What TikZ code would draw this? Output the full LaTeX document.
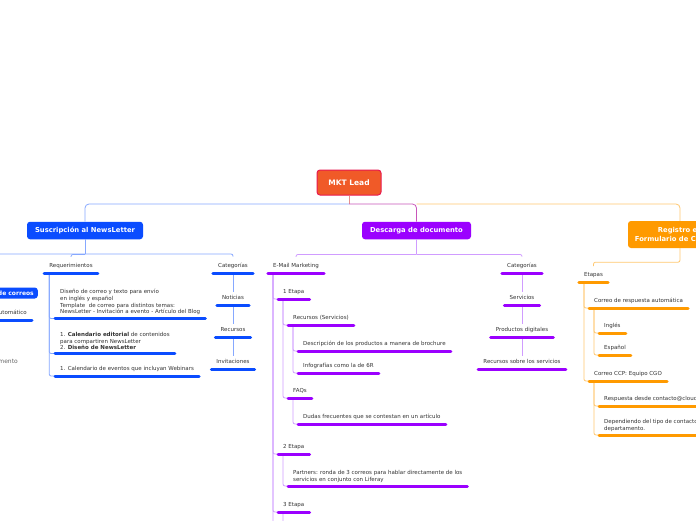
\documentclass[tikz,border=0pt]{standalone}
\usepackage{fontspec}
\setmainfont{DejaVu Sans}
\usepackage{tikz}
\usetikzlibrary{calc}
\definecolor{txt}{HTML}{333333}
\definecolor{note}{HTML}{666666}
\definecolor{rootfill}{HTML}{F05A28}
\definecolor{rootedge}{HTML}{E8194F}
\definecolor{mblue}{HTML}{0A4CFF}
\definecolor{lblue}{HTML}{86A8FF}
\definecolor{mpurple}{HTML}{9B00FF}
\definecolor{lpurple}{HTML}{D09CFF}
\definecolor{morange}{HTML}{FF9A00}
\definecolor{lorange}{HTML}{FFC870}
\definecolor{salmon}{HTML}{E6908C}
\newcommand\fsmall{\fontsize{5.5}{6.6}\selectfont}
\newcommand\fmain{\fontsize{6.8}{8.8}\selectfont\bfseries}
\newcommand\froot{\fontsize{7.5}{9}\selectfont\bfseries}
\tikzset{
  rootbox/.style={draw=rootedge, fill=rootfill, line width=1pt, rounded corners=3pt,
    text=white, font=\froot, minimum width=64pt, minimum height=25pt},
  mainbox/.style={rounded corners=3pt, text=white, font=\fmain, align=center, inner sep=0pt},
  topic/.style={font=\fsmall, text=txt, inner xsep=5pt, inner ysep=3.5pt, text depth=1.5pt},
  mtopic/.style={font=\fsmall, text=txt, inner xsep=5pt, inner ysep=3.5pt, align=left},
  ublue/.style={draw=mblue, line width=3pt, line cap=round},
  upurple/.style={draw=mpurple, line width=3pt, line cap=round},
  uorange/.style={draw=morange, line width=3pt, line cap=round},
  cblue/.style={draw=lblue, line width=0.8pt, rounded corners=2pt},
  cpurple/.style={draw=lpurple, line width=0.8pt, rounded corners=2pt},
  corange/.style={draw=lorange, line width=0.8pt, rounded corners=2pt},
}

\begin{document}
\begin{tikzpicture}[x=1pt,y=-1pt]
  \useasboundingbox[fill=white] (0,0) rectangle (696,520);
  % main topics
  \node[rootbox] (root) at (349,182.5) {MKT Lead};
  \node[mainbox, fill=mblue, minimum width=116pt, minimum height=17.5pt] (sus) at (85,230.5) {Suscripción al NewsLetter};
  \node[mainbox, fill=mblue, font=\fontsize{6}{7}\selectfont\bfseries, minimum height=11pt, inner xsep=4pt, anchor=east] (envio) at (38,293) {Envío de correos};
  \node[mainbox, fill=mpurple, minimum width=109pt, minimum height=17.5pt] (desc) at (416.5,230.5) {Descarga de documento};
  \node[mainbox, fill=morange, minimum width=104pt, minimum height=27pt] (reg) at (680,234.5) {Registro en\\Formulario de Contacto};
  \node[topic, anchor=south east] (auto) at (32,320) {Correo automático};
  \node[font=\fontsize{6}{7}\selectfont, text=note, anchor=east, inner sep=0pt] (docu) at (18,361) {Documento};

  % suscripcion
  \node[topic, anchor=south] (req) at (71,273) {Requerimientos};
  \node[mtopic, anchor=south west] (rq1) at (55,318.5) {Diseño de correo y texto para envío\\en inglés y español\\Template\ \ de correo para distintos temas:\\NewsLetter - Invitación a evento - Artículo del Blog};
  \node[mtopic, anchor=south west] (rq2) at (55,353.5) {1. \textbf{Calendario editorial} de contenidos\\para compartiren NewsLetter\\2. \textbf{Diseño de NewsLetter}};
  \node[topic, anchor=south west] (rq3) at (55,376) {1. Calendario de eventos que incluyan Webinars};
  \node[topic, anchor=south] (scat) at (233,273) {Categorías};
  \node[topic, anchor=south] (noti) at (233,305) {Noticias};
  \node[topic, anchor=south] (srec) at (233,337) {Recursos};
  \node[topic, anchor=south] (invi) at (233,369) {Invitaciones};

  % descarga
  \node[topic, anchor=south] (mail) at (296,273) {E-Mail Marketing};
  \node[topic, anchor=south west] (et1) at (278,299) {1 Etapa};
  \node[topic, anchor=south west] (srv) at (288,325) {Recursos (Servicios)};
  \node[topic, anchor=south west] (dsc) at (298,351) {Descripción de los productos a manera de brochure};
  \node[topic, anchor=south west] (inf) at (298,373) {Infografías como la de 6R};
  \node[topic, anchor=south west] (faq) at (288,398) {FAQs};
  \node[topic, anchor=south west] (dud) at (298,424) {Dudas frecuentes que se contestan en un artículo};
  \node[topic, anchor=south west] (et2) at (278,454) {2 Etapa};
  \node[mtopic, anchor=south west] (prt) at (288,486) {Partners: ronda de 3 correos para hablar directamente de los\\servicios en conjunto con Liferay};
  \node[topic, anchor=south west] (et3) at (278,512) {3 Etapa};
  \node[topic, anchor=south] (dcat) at (522,273) {Categorías};
  \node[topic, anchor=south] (dser) at (522,305) {Servicios};
  \node[topic, anchor=south] (dpro) at (522,337) {Productos digitales};
  \node[topic, anchor=south] (drec) at (522,369) {Recursos sobre los servicios};
  \coordinate (mailnext) at (278,545);
  \coordinate (et3next) at (288,545);

  % registro
  \node[topic, anchor=south] (etp) at (593.5,282) {Etapas};
  \node[topic, anchor=south west] (cra) at (589,308) {Correo de respuesta automática};
  \node[topic, anchor=south west] (ing) at (599,333) {Inglés};
  \node[topic, anchor=south west] (esp) at (599,355) {Español};
  \node[topic, anchor=south west] (ccp) at (589,381) {Correo CCP:\ Equipo CGO};
  \node[topic, anchor=south west] (rsp) at (599,406) {Respuesta desde contacto@cloudgo};
  \node[mtopic, anchor=south west] (dep) at (599,435) {Dependiendo del tipo de contacto se envía al\\departamento.};

  % top connectors
  \draw[salmon, line width=0.8pt] (root.south) -- ++(0,8.5) coordinate (hub);
  \draw[lblue, line width=0.8pt, rounded corners=4pt] (hub) -| (sus.north);
  \draw[salmon!60!mpurple, line width=0.8pt, rounded corners=4pt] (hub) -| (desc.north);
  \draw[lorange, line width=0.8pt, rounded corners=4pt] (hub -| desc.north) -| (reg.north);

  % branch connectors
  \draw[cblue] (sus.south) -- ++(0,15) coordinate (shub);
  \draw[cblue, shorten >=3pt] (-30,254) -| (scat.north);
  \draw[cblue, shorten >=3pt] (shub) -| (req.north);
  \draw[cpurple] (desc.south) -- ++(0,15) coordinate (dhub);
  \draw[cpurple, shorten >=3pt] (dhub) -| (mail.north);
  \draw[cpurple, shorten >=3pt] (dhub) -| (dcat.north);
  \draw[corange, shorten >=3pt] (reg.south) -- ++(0,14) -| (etp.north);

  \foreach \c in {rq1,rq2,rq3}
    \draw[cblue] ($(req.south west)+(5,1.5)$) |- (\c.south west);
  \foreach \a/\b in {scat/noti,noti/srec,srec/invi}
    \draw[cblue] (\a.south) -- (\b.north);
  \foreach \p/\c in {mail/et1,mail/et2,mail/et3,mail/mailnext,et1/srv,et1/faq,srv/dsc,srv/inf,faq/dud,et2/prt,et3/et3next}
    \draw[cpurple] ($(\p.south west)+(5,1.5)$) |- (\c.south west);
  \foreach \a/\b in {dcat/dser,dser/dpro,dpro/drec}
    \draw[cpurple] (\a.south) -- (\b.north);
  \foreach \p/\c in {etp/cra,etp/ccp,cra/ing,cra/esp,ccp/rsp,ccp/dep}
    \draw[corange] ($(\p.south west)+(5,1.5)$) |- (\c.south west);

  % underlines
  \foreach \n in {auto,req,rq1,rq2,rq3,scat,noti,srec,invi}
    \draw[ublue] (\n.south west) -- (\n.south east);
  \foreach \n in {mail,et1,srv,dsc,inf,faq,dud,et2,prt,et3,dcat,dser,dpro,drec}
    \draw[upurple] (\n.south west) -- (\n.south east);
  \foreach \n in {etp,cra,ing,esp,ccp,rsp,dep}
    \draw[uorange] (\n.south west) -- (\n.south east);
\end{tikzpicture}
\end{document}
